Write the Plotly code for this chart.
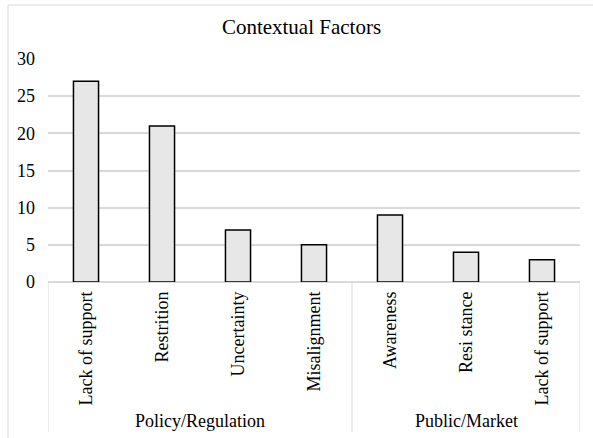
import plotly.graph_objects as go

groups = ["Policy/Regulation", "Public/Market"]
group_sizes = [4, 3]
factors = ["Lack of support", "Restrition", "Uncertainty", "Misalignment",
           "Awareness", "Resi stance", "Lack of support\u200b"]
counts = [27, 21, 7, 5, 9, 4, 3]
y_ticks = [0, 5, 10, 15, 20, 25, 30]

FONT = "'Liberation Serif', 'Times New Roman', Times, serif"
GRID = "#d9d9d9"

fig = go.Figure(go.Bar(
    x=factors,
    y=counts,
    marker=dict(color="#e7e7e7", line=dict(color="#000000", width=1.5)),
    width=0.33,
))

L, R, T, B = 48, 13, 59, 156
W, H = 593, 438
pw, ph = W - L - R, H - T - B

# group dividers and labels, placed in category (data) units on the x axis
shapes = []
annotations = []
div_bottom = -(432 - (H - B)) / ph
label_y = -(421 - (H - B)) / ph
start = 0
bounds = [-0.5]
for g, n in zip(groups, group_sizes):
    end = start + n
    bounds.append(end - 0.5)
    annotations.append(dict(
        text=g, x=(start + end - 1) / 2, xref="x", y=label_y, yref="paper",
        showarrow=False, xanchor="center", yanchor="middle",
        font=dict(family=FONT, size=18, color="#000000")))
    start = end
for b in bounds:
    shapes.append(dict(type="line", xref="x", yref="paper", x0=b, x1=b,
                       y0=0, y1=div_bottom, line=dict(color=GRID, width=1)))

shapes.append(dict(type="rect", xref="paper", yref="paper",
                   x0=(8 - L) / pw, x1=(W + 10 - L) / pw,
                   y0=-(B + 10) / ph, y1=1 + (T - 5) / ph,
                   line=dict(color=GRID, width=1), fillcolor="rgba(0,0,0,0)",
                   layer="below"))

fig.update_layout(
    width=W, height=H,
    margin=dict(l=L, r=R, t=T, b=B, pad=0),
    paper_bgcolor="white", plot_bgcolor="white",
    font=dict(family=FONT, color="#000000", size=18),
    showlegend=False,
    title=dict(text="Contextual Factors", x=301.5 / W, xanchor="center",
               y=1 - 27 / H, yanchor="middle",
               font=dict(family=FONT, size=21, color="#000000")),
    xaxis=dict(
        type="category", range=[-0.5, len(factors) - 0.5],
        tickangle=-90, automargin=False,
        tickfont=dict(family=FONT, size=18, color="#000000"),
        showline=False, showgrid=False, ticks="", ticklabelstandoff=5,
    ),
    yaxis=dict(
        range=[0, 30], tickvals=y_ticks, automargin=False,
        showgrid=True, gridcolor=GRID, gridwidth=1.5,
        zeroline=True, zerolinecolor=GRID, zerolinewidth=1.5,
        showline=False, ticks="", ticklabelstandoff=12,
        tickfont=dict(family=FONT, size=18, color="#000000"),
    ),
    shapes=shapes,
    annotations=annotations,
)

fig.write_html("out.html")
